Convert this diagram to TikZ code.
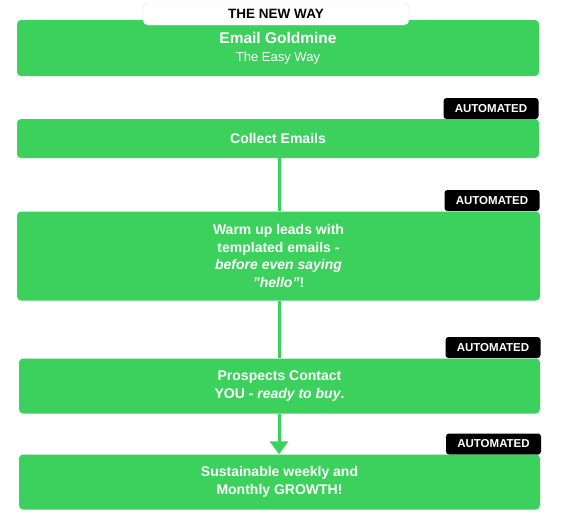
\documentclass[tikz,border=0pt]{standalone}
\usepackage{fontspec}
\setmainfont{Liberation Sans}
\usetikzlibrary{arrows.meta}
\definecolor{leadgreen}{RGB}{59,209,92}
\begin{document}
\begin{tikzpicture}[x=1pt,y=-1pt,
  stepbox/.style={fill=leadgreen,rounded corners=4pt,inner sep=0pt,text=white,align=center,font=\fontsize{14}{17.5}\selectfont\bfseries},
  autotag/.style={fill=black,rounded corners=3pt,inner sep=0pt,minimum width=95pt,minimum height=21pt,text=white,font=\fontsize{11.5}{13}\selectfont\bfseries},
  flow/.style={leadgreen,line width=3pt}]
\useasboundingbox (0,0) rectangle (571,517);
% tags sit behind the boxes
\node[autotag] (tag2) at (491,108.5) {AUTOMATED};
\node[autotag] (tag3) at (492,200.5) {AUTOMATED};
\node[autotag] (tag4) at (493,347.5) {AUTOMATED};
\node[autotag] (tag5) at (493.5,444) {AUTOMATED};
\node[stepbox,minimum width=522pt,minimum height=56pt] (goldmine) at (278,48) {\fontsize{15.5}{17}\selectfont Email Goldmine\\\fontsize{13}{15}\selectfont\mdseries The Easy Way};
\node[fill=white,draw=black!10,rounded corners=5pt,minimum width=266pt,minimum height=22pt,inner sep=0pt,font=\fontsize{13.5}{15}\selectfont\bfseries] (newway) at (276,14) {THE NEW WAY};
\node[stepbox,minimum width=522pt,minimum height=39pt] (collect) at (278,138.5) {Collect Emails};
\node[stepbox,minimum width=523pt,minimum height=89pt] (warm) at (278.5,256) {Warm up leads with\\templated emails -\\\itshape before even saying\\\itshape \symbol{34}hello\symbol{34}\upshape!};
\node[stepbox,minimum width=521pt,minimum height=55pt] (contact) at (279.5,386) {Prospects Contact\\YOU - \textit{ready to buy}.};
\node[stepbox,minimum width=521pt,minimum height=55pt] (growth) at (279.5,482) {Sustainable weekly and\\Monthly GROWTH!};
% connectors
\draw[flow] (collect.south -| 279,0) -- (warm.north -| 279,0);
\draw[flow] (warm.south -| 279,0) -- (contact.north -| 279,0);
\draw[flow,-{Triangle[width=18pt,length=13pt]}] (contact.south -| 279,0) -- (growth.north -| 279,0);
\end{tikzpicture}
\end{document}
